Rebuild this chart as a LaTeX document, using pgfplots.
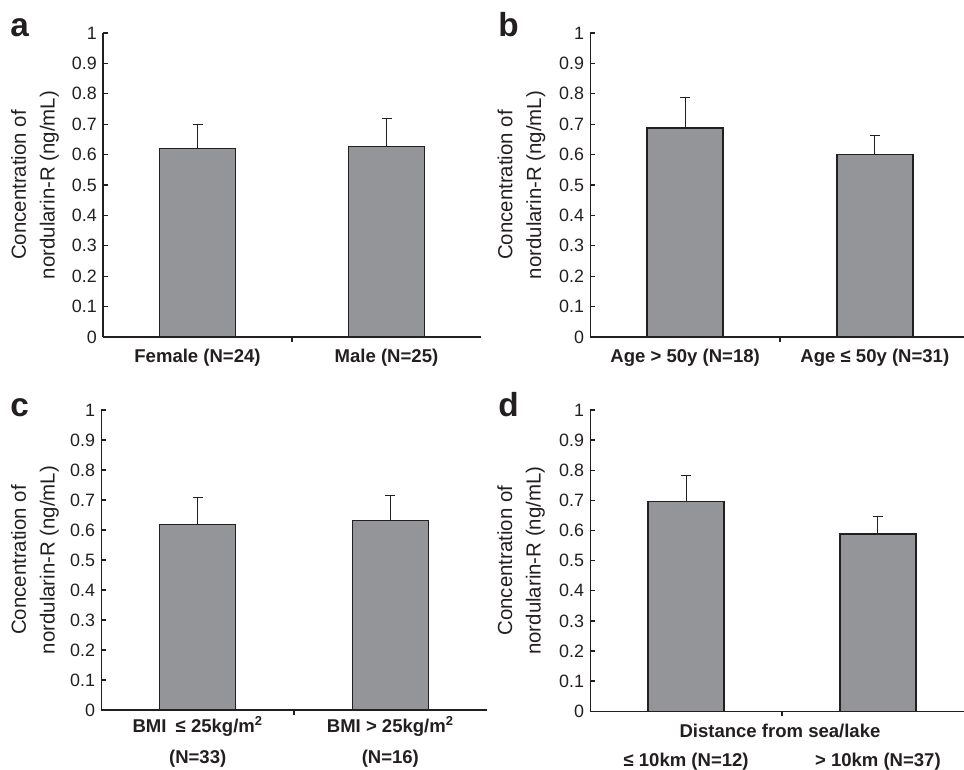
\documentclass[border=0pt]{standalone}
\usepackage{fontspec}
\setmainfont{Liberation Sans}
\usepackage{pgfplots}
\pgfplotsset{compat=1.18}
\definecolor{barfill}{HTML}{939598}
\definecolor{ink}{HTML}{231F20}
\pgfplotsset{
  panel/.style={
    scale only axis,
    axis x line=bottom, axis y line=left,
    axis line style={-, line width=1.1pt, ink},
    ymin=0, ymax=1, xmin=-0.5,
    ytick={0,0.1,0.2,0.3,0.4,0.5,0.6,0.7,0.8,0.9,1},
    /pgf/number format/assume math mode=true,
    yticklabel style={font=\fontsize{13.4}{15}\selectfont, inner sep=0pt, xshift=-4.5pt, text=ink},
    tick align=inside,
    major tick length=3.75pt,
    tick style={line width=1pt, ink},
    xtick={0.5}, xticklabels={{}},
    extra x ticks={0,1},
    extra x tick style={major tick length=0pt},
    xticklabel style={font=\bfseries\fontsize{13.9}{16}\selectfont, inner sep=0pt, anchor=north, yshift=-8.5pt, align=center, text=ink},
    ylabel={Concentration of\\nordularin-R (ng/mL)},
    ylabel style={rotate=0, anchor=center, align=center, font=\fontsize{15.3}{21.5}\selectfont, text=ink},
    ybar, bar width=57pt, bar shift=0pt,
    clip=false,
  },
  barplot/.style={
    fill=barfill, draw=ink, line width=1pt,
    error bars/.cd, y dir=plus, y explicit,
    error bar style={line width=0.8pt, ink},
    error mark options={line width=0.8pt, ink, mark size=3.75pt, rotate=90},
  },
}
\begin{document}
\begin{tikzpicture}
\useasboundingbox (0,0) rectangle (723pt,576.75pt);
% panel a
\begin{axis}[panel, at={(77.25pt,324pt)}, anchor=south west,
  width=283.5pt, height=228pt, xmax=1.5,
  ylabel style={at={(axis description cs:-0.180,0.5)}},
  extra x tick labels={Female (N=24), Male (N=25)}]
\addplot[barplot] coordinates {(0,0.621) +- (0,0.079) (1,0.626) +- (0,0.093)};
\end{axis}
% panel b
\begin{axis}[panel, at={(442.7pt,324pt)}, anchor=south west,
  width=280.3pt, height=228pt, xmax=1.47,
  ylabel style={at={(axis description cs:-0.184,0.5)}},
  extra x tick labels={Age > 50y (N=18), Age ≤ 50y (N=31)}]
\addplot[barplot] coordinates {(0,0.687) +- (0,0.101) (1,0.601) +- (0,0.063)};
\end{axis}
% panel c
\begin{axis}[panel, at={(76pt,44.25pt)}, anchor=south west,
  width=289pt, height=225pt, xmax=1.5,
  ylabel style={at={(axis description cs:-0.172,0.5)}},
  xticklabel style={font=\bfseries\fontsize{13.9}{23}\selectfont, yshift=3.5pt},
  extra x tick labels={BMI\enspace≤ 25kg/m\textsuperscript{2}\\(N=33), BMI > 25kg/m\textsuperscript{2}\\(N=16)}]
\addplot[barplot] coordinates {(0,0.619) +- (0,0.089) (1,0.632) +- (0,0.082)};
\end{axis}
% panel d
\begin{axis}[panel, at={(442.7pt,43.3pt)}, anchor=south west,
  width=280.3pt, height=226pt, xmax=1.449,
  ylabel style={at={(axis description cs:-0.185,0.5)}},
  xticklabel style={yshift=-22.5pt},
  xlabel={Distance from sea/lake},
  xlabel style={at={(axis description cs:0.5076,0)}, anchor=north, inner sep=0pt, yshift=-9.5pt, font=\bfseries\fontsize{13.9}{16}\selectfont, text=ink},
  extra x tick labels={≤ 10km (N=12), > 10km (N=37)}]
\addplot[barplot] coordinates {(0,0.697) +- (0,0.086) (1,0.588) +- (0,0.059)};
\end{axis}
\node[anchor=base west, inner sep=0pt, font=\bfseries\fontsize{25}{30}\selectfont, text=ink] at (7.5pt,549pt) {a};
\node[anchor=base west, inner sep=0pt, font=\bfseries\fontsize{25}{30}\selectfont, text=ink] at (373.5pt,549pt) {b};
\node[anchor=base west, inner sep=0pt, font=\bfseries\fontsize{25}{30}\selectfont, text=ink] at (7.5pt,264.75pt) {c};
\node[anchor=base west, inner sep=0pt, font=\bfseries\fontsize{25}{30}\selectfont, text=ink] at (373.5pt,264.75pt) {d};
\end{tikzpicture}
\end{document}
